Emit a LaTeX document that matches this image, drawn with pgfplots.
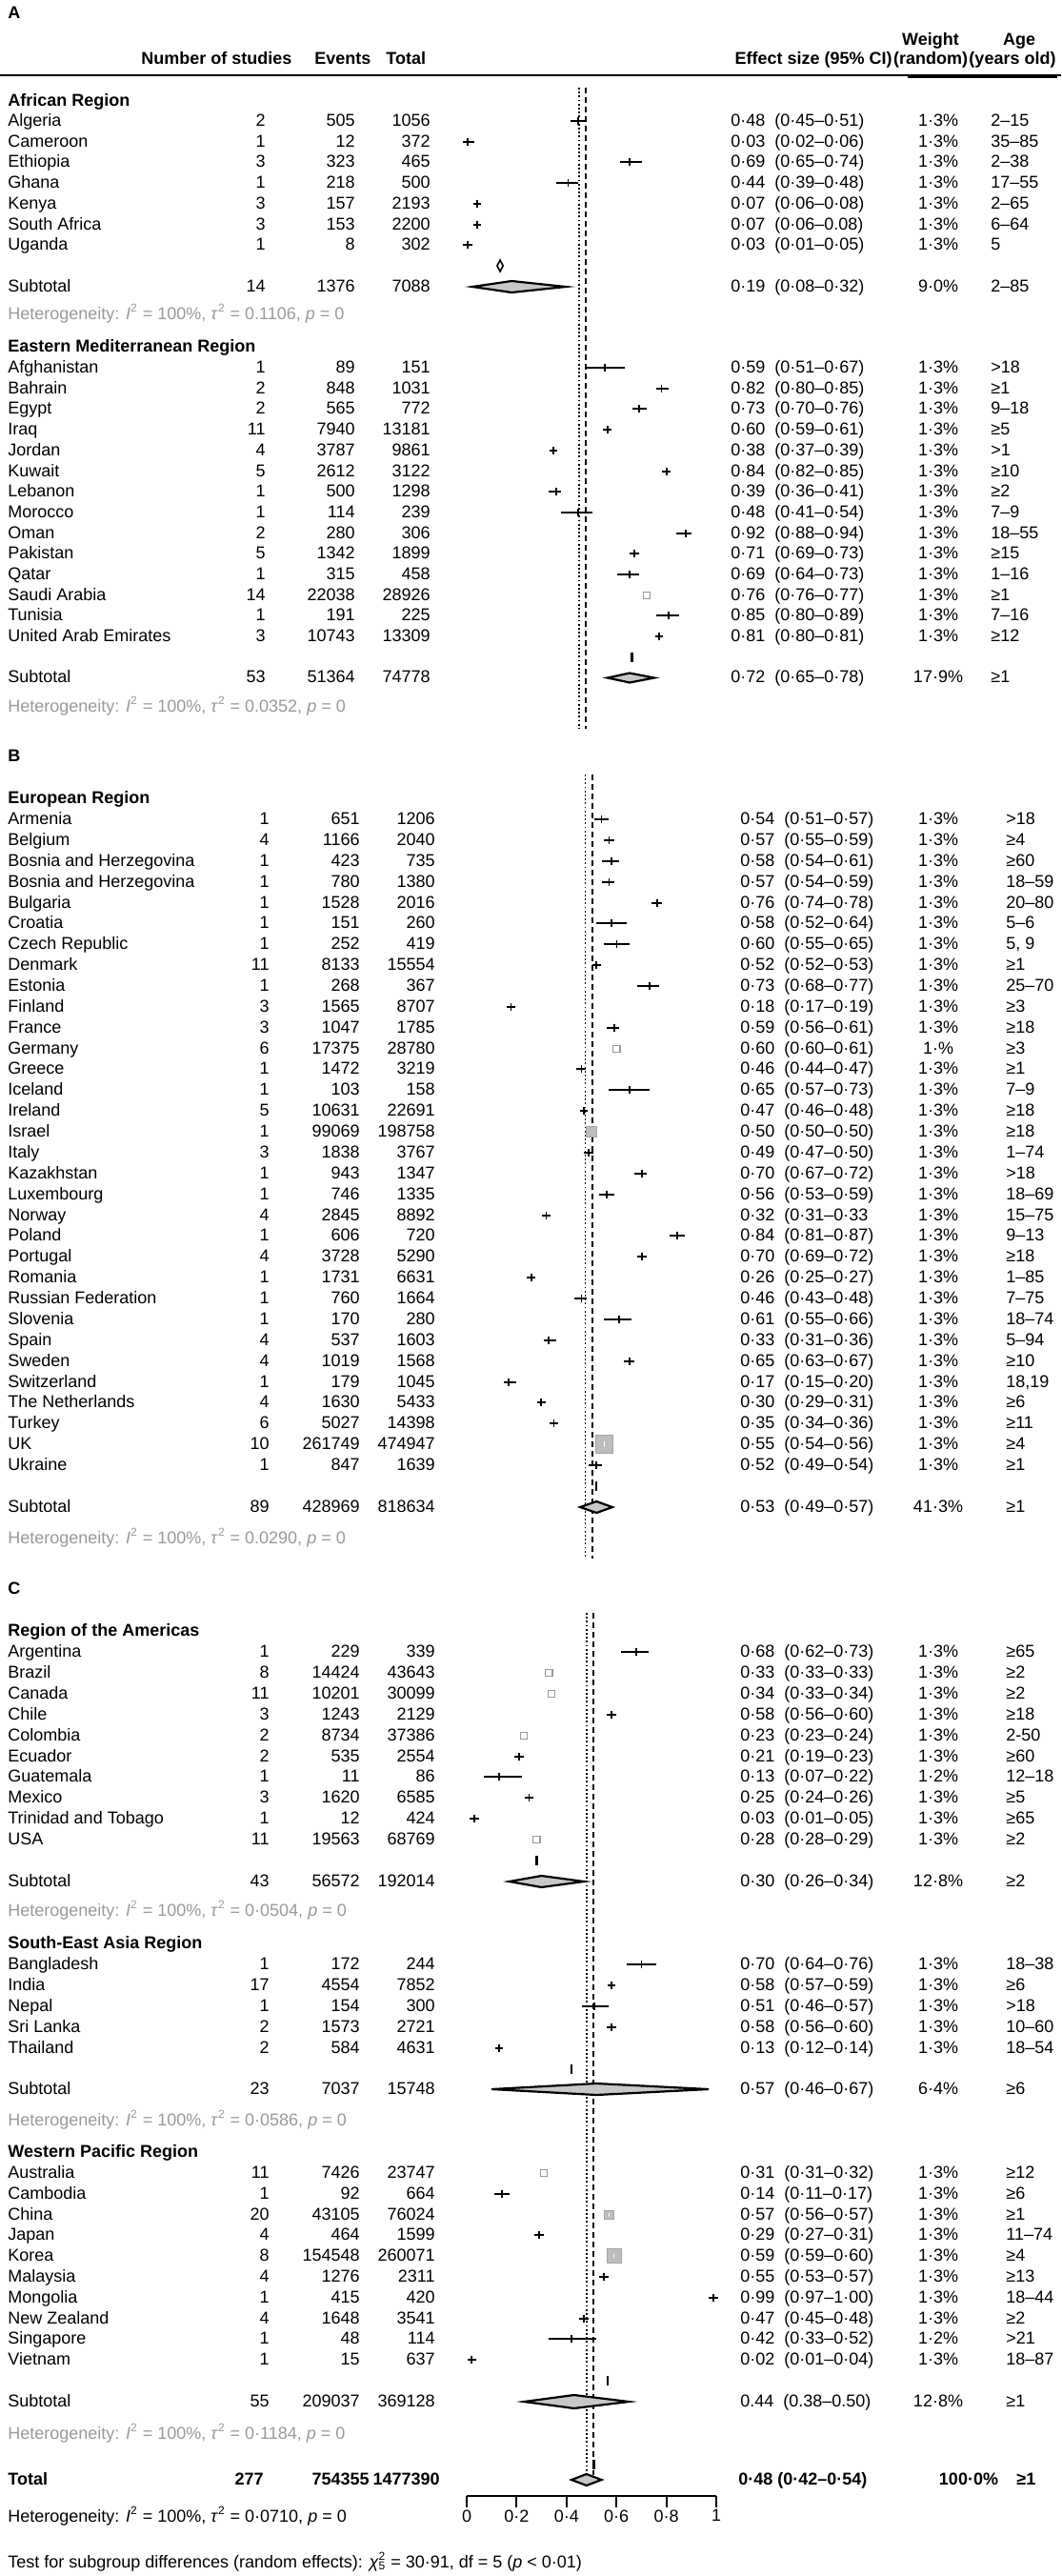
\documentclass[border=0pt]{standalone}
\usepackage{fontspec}
\setmainfont{Liberation Sans}
\usepackage{pgfplots}
\usepackage{pgfplotstable}
\pgfplotsset{compat=1.18}
\newcommand\fs{\fontsize{9pt}{10.8pt}\selectfont}
\definecolor{hetgray}{gray}{0.6}
\definecolor{dia}{gray}{0.78}
\definecolor{sqgray}{gray}{0.74}

% study rows: y (layout position, px), estimate, lower, upper
\pgfplotstableread{
y e l h
-127 0.48 0.45 0.51
-149 0.03 0.02 0.06
-170 0.69 0.65 0.74
-192 0.44 0.39 0.48
-214 0.07 0.06 0.08
-236 0.07 0.06 0.08
-257 0.03 0.01 0.05
-386 0.59 0.51 0.67
-408 0.82 0.80 0.85
-429 0.73 0.70 0.76
-451 0.60 0.59 0.61
-473 0.38 0.37 0.39
-495 0.84 0.82 0.85
-516 0.39 0.36 0.41
-538 0.48 0.41 0.54
-560 0.92 0.88 0.94
-581 0.71 0.69 0.73
-603 0.69 0.64 0.73
-646 0.85 0.80 0.89
-668 0.81 0.80 0.81
}\tabA
\pgfplotstableread{
y e l h
-860 0.54 0.51 0.57
-882 0.57 0.55 0.59
-904 0.58 0.54 0.61
-926 0.57 0.54 0.59
-948 0.76 0.74 0.78
-969 0.58 0.52 0.64
-991 0.60 0.55 0.65
-1013 0.52 0.52 0.53
-1035 0.73 0.68 0.77
-1057 0.18 0.17 0.19
-1079 0.59 0.56 0.61
-1122 0.46 0.44 0.47
-1144 0.65 0.57 0.73
-1166 0.47 0.46 0.48
-1210 0.49 0.47 0.50
-1232 0.70 0.67 0.72
-1254 0.56 0.53 0.59
-1276 0.32 0.31 0.33
-1297 0.84 0.81 0.87
-1319 0.70 0.69 0.72
-1341 0.26 0.25 0.27
-1363 0.46 0.43 0.48
-1385 0.61 0.55 0.66
-1407 0.33 0.31 0.36
-1429 0.65 0.63 0.67
-1451 0.17 0.15 0.20
-1472 0.30 0.29 0.31
-1494 0.35 0.34 0.36
-1538 0.52 0.49 0.54
}\tabB
\pgfplotstableread{
y e l h
-1734 0.68 0.62 0.73
-1800 0.58 0.56 0.60
-1844 0.21 0.19 0.23
-1865 0.13 0.07 0.22
-1887 0.25 0.24 0.26
-1909 0.03 0.01 0.05
-2062 0.70 0.64 0.76
-2084 0.58 0.57 0.59
-2106 0.51 0.46 0.57
-2128 0.58 0.56 0.60
-2150 0.13 0.12 0.14
-2303 0.14 0.11 0.17
-2346 0.29 0.27 0.31
-2390 0.55 0.53 0.57
-2412 0.99 0.97 1.00
-2434 0.47 0.45 0.48
-2455 0.42 0.33 0.52
-2477 0.02 0.01 0.04
}\tabC

\pgfplotsset{
  fp/.style={scale only axis, xmin=0, xmax=1, enlargelimits=false, clip=false},
  ci/.style={only marks, black, mark=+, mark size=2.2pt, mark options={line width=0.9pt},
    error bars/.cd, x dir=both, x explicit, error mark=none, error bar style={line width=1pt, black}},
  dotline/.style={black, line width=0.9pt, dash pattern=on 0.9pt off 1.2pt},
  dashline/.style={black, line width=0.9pt, dash pattern=on 3pt off 2pt},
  diam/.style={fill=dia, draw=black, line width=1.1pt},
  faint/.style={only marks, mark=square, mark size=1.8pt, mark options={draw=black!40, line width=0.6pt}},
  gsq/.style={only marks, mark=square*, mark options={fill=sqgray, draw=black!35, line width=0.4pt}},
  vmark/.style={only marks, mark=|, mark size=2.6pt, mark options={line width=1.2pt}},
}
\newcommand\citab[1]{\addplot[ci] table[x=e, y=y, x error plus expr=\thisrow{h}-\thisrow{e}, x error minus expr=\thisrow{e}-\thisrow{l}] {#1};}

\newcommand\row[8]{%
  \node[anchor=mid west] at (8,#1) {#2};
  \node[anchor=mid east] at (\nx,#1) {#3};
  \node[anchor=mid east] at (\evx,#1) {#4};
  \node[anchor=mid east] at (\totx,#1) {#5};
  \node[anchor=mid west] at (\esx,#1) {#6};
  \node[anchor=mid] at (985,#1) {#7};
  \node[anchor=mid west] at (\agex,#1) {#8};
}
\newcommand\reg[2]{\node[anchor=mid west, font=\fs\bfseries] at (8,#1) {#2};}
\newcommand\het[2]{\node[anchor=mid west, text=hetgray] at (8,#1) {Heterogeneity: \textit{I}\textsuperscript{2} = 100\%, \textit{τ}\textsuperscript{2} = #2, \textit{p} = 0};}

\begin{document}
\begin{tikzpicture}
\path[use as bounding box] (0,0) rectangle (557pt,-1352pt);

% ---------------- Panel A plot ----------------
\begin{axis}[fp, hide axis, at={(241.5pt,-397.5pt)}, anchor=south west, width=129pt, height=357.5pt, ymin=-795, ymax=-80]
\addplot[dotline] coordinates {(0.485,-92) (0.485,-765)};
\addplot[dashline] coordinates {(0.512,-92) (0.512,-765)};
\citab{\tabA}
\addplot[faint] coordinates {(0.76,-625)};
\addplot[diam] coordinates {(0.05,-301) (0.21,-295) (0.43,-301) (0.21,-307)} --cycle;
\addplot[diam] coordinates {(0.60,-711.5) (0.69,-706.5) (0.79,-711.5) (0.69,-716.5)} --cycle;
\addplot[black, line width=0.8pt] coordinates {(0.163,-273) (0.175,-279) (0.163,-285) (0.151,-279)} --cycle;
\addplot[vmark] coordinates {(0.70,-690)};
\end{axis}

% ---------------- Panel B plot ----------------
\begin{axis}[fp, hide axis, at={(244.5pt,-825pt)}, anchor=south west, width=132pt, height=425pt, ymin=-1650, ymax=-800]
\addplot[dotline] coordinates {(0.475,-813) (0.475,-1636)};
\addplot[dashline] coordinates {(0.504,-813) (0.504,-1636)};
\citab{\tabB}
\addplot[faint] coordinates {(0.60,-1101)};
\addplot[gsq, mark size=2.7pt] coordinates {(0.50,-1188)};
\addplot[gsq, mark size=4.6pt] coordinates {(0.55,-1516)};
\addplot[only marks, mark=|, mark size=1.5pt, mark options={draw=white, line width=0.7pt}] coordinates {(0.55,-1516)};
\addplot[diam] coordinates {(0.455,-1582) (0.52,-1576) (0.583,-1582) (0.52,-1588)} --cycle;
\addplot[vmark] coordinates {(0.52,-1560)};
\end{axis}

% ---------------- Panel C plot (with x axis) ----------------
\begin{axis}[fp, at={(245pt,-1310pt)}, anchor=south west, width=131pt, height=480pt, ymin=-2620, ymax=-1660,
  axis x line=bottom, axis y line=none, ytick=\empty, x axis line style={-, line width=1pt},
  xtick={0,0.2,0.4,0.6,0.8,1}, xticklabels={0,0·2,0·4,0·6,0·8,1},
  tick align=outside, major tick length=6pt, xtick style={line width=1pt, black},
  xticklabel style={font=\fs, inner sep=1pt}]
\addplot[dotline] coordinates {(0.48,-1693) (0.48,-2598)};
\addplot[dashline] coordinates {(0.508,-1693) (0.508,-2598)};
\citab{\tabC}
\addplot[faint] coordinates {(0.33,-1756) (0.34,-1778) (0.23,-1822) (0.28,-1931) (0.31,-2281)};
\addplot[gsq, mark size=2.3pt] coordinates {(0.57,-2325)};
\addplot[gsq, mark size=3.8pt] coordinates {(0.59,-2368)};
\addplot[only marks, mark=|, mark size=1.2pt, mark options={draw=white, line width=0.7pt}] coordinates {(0.57,-2325) (0.59,-2368)};
\addplot[diam] coordinates {(0.17,-1975) (0.30,-1969) (0.47,-1975) (0.30,-1981)} --cycle;
\addplot[diam] coordinates {(0.10,-2193) (0.52,-2187) (0.97,-2193) (0.52,-2199)} --cycle;
\addplot[diam] coordinates {(0.23,-2521) (0.43,-2514) (0.65,-2521) (0.43,-2528)} --cycle;
\addplot[diam] coordinates {(0.42,-2603) (0.48,-2597) (0.54,-2603) (0.48,-2609)} --cycle;
\addplot[vmark] coordinates {(0.28,-1953) (0.42,-2172) (0.565,-2499) (0.51,-2587)};
\end{axis}

% ---------------- Text ----------------
\begin{scope}[x=0.5pt, y=-0.5pt, every node/.style={inner sep=0pt, font=\fs}]
\node[anchor=mid west, font=\fs\bfseries] at (8,14) {A};
\node[anchor=mid west, font=\fs\bfseries] at (148,62) {Number of studies};
\node[anchor=mid west, font=\fs\bfseries] at (330,62) {Events};
\node[anchor=mid west, font=\fs\bfseries] at (405,62) {Total};
\node[anchor=mid east, font=\fs\bfseries] at (937,62) {Effect size (95\% CI)};
\node[anchor=mid, font=\fs\bfseries] at (977,42) {Weight};
\node[anchor=mid, font=\fs\bfseries] at (977,62) {(random)};
\node[anchor=mid, font=\fs\bfseries] at (1070,42) {Age};
\node[anchor=mid, font=\fs\bfseries] at (1063,62) {(years old)};
\draw[line width=1.1pt] (0,79) -- (1114,79);
\draw[line width=2.2pt] (953,80) -- (1110,80);

\def\nx{279}\def\evx{373}\def\totx{452}\def\esx{767}\def\agex{1040}
\reg{106}{African Region}
\row{127}{Algeria}{2}{505}{1056}{0·48~~(0·45–0·51)}{1·3\%}{2–15}
\row{149}{Cameroon}{1}{12}{372}{0·03~~(0·02–0·06)}{1·3\%}{35–85}
\row{170}{Ethiopia}{3}{323}{465}{0·69~~(0·65–0·74)}{1·3\%}{2–38}
\row{192}{Ghana}{1}{218}{500}{0·44~~(0·39–0·48)}{1·3\%}{17–55}
\row{214}{Kenya}{3}{157}{2193}{0·07~~(0·06–0·08)}{1·3\%}{2–65}
\row{236}{South Africa}{3}{153}{2200}{0·07~~(0·06–0.08)}{1·3\%}{6–64}
\row{257}{Uganda}{1}{8}{302}{0·03~~(0·01–0·05)}{1·3\%}{5}
\row{301}{Subtotal}{14}{1376}{7088}{0·19~~(0·08–0·32)}{9·0\%}{2–85}
\het{330}{0.1106}
\reg{364}{Eastern Mediterranean Region}
\row{386}{Afghanistan}{1}{89}{151}{0·59~~(0·51–0·67)}{1·3\%}{>18}
\row{408}{Bahrain}{2}{848}{1031}{0·82~~(0·80–0·85)}{1·3\%}{≥1}
\row{429}{Egypt}{2}{565}{772}{0·73~~(0·70–0·76)}{1·3\%}{9–18}
\row{451}{Iraq}{11}{7940}{13181}{0·60~~(0·59–0·61)}{1·3\%}{≥5}
\row{473}{Jordan}{4}{3787}{9861}{0·38~~(0·37–0·39)}{1·3\%}{>1}
\row{495}{Kuwait}{5}{2612}{3122}{0·84~~(0·82–0·85)}{1·3\%}{≥10}
\row{516}{Lebanon}{1}{500}{1298}{0·39~~(0·36–0·41)}{1·3\%}{≥2}
\row{538}{Morocco}{1}{114}{239}{0·48~~(0·41–0·54)}{1·3\%}{7–9}
\row{560}{Oman}{2}{280}{306}{0·92~~(0·88–0·94)}{1·3\%}{18–55}
\row{581}{Pakistan}{5}{1342}{1899}{0·71~~(0·69–0·73)}{1·3\%}{≥15}
\row{603}{Qatar}{1}{315}{458}{0·69~~(0·64–0·73)}{1·3\%}{1–16}
\row{625}{Saudi Arabia}{14}{22038}{28926}{0·76~~(0·76–0·77)}{1·3\%}{≥1}
\row{646}{Tunisia}{1}{191}{225}{0·85~~(0·80–0·89)}{1·3\%}{7–16}
\row{668}{United Arab Emirates}{3}{10743}{13309}{0·81~~(0·80–0·81)}{1·3\%}{≥12}
\row{711}{Subtotal}{53}{51364}{74778}{0·72~~(0·65–0·78)}{17·9\%}{≥1}
\het{742}{0.0352}

\def\nx{283}\def\evx{378}\def\totx{457}\def\esx{777}\def\agex{1056}
\node[anchor=mid west, font=\fs\bfseries] at (8,794) {B};
\reg{838}{European Region}
\row{860}{Armenia}{1}{651}{1206}{0·54~~(0·51–0·57)}{1·3\%}{>18}
\row{882}{Belgium}{4}{1166}{2040}{0·57~~(0·55–0·59)}{1·3\%}{≥4}
\row{904}{Bosnia and Herzegovina}{1}{423}{735}{0·58~~(0·54–0·61)}{1·3\%}{≥60}
\row{926}{Bosnia and Herzegovina}{1}{780}{1380}{0·57~~(0·54–0·59)}{1·3\%}{18–59}
\row{948}{Bulgaria}{1}{1528}{2016}{0·76~~(0·74–0·78)}{1·3\%}{20–80}
\row{969}{Croatia}{1}{151}{260}{0·58~~(0·52–0·64)}{1·3\%}{5–6}
\row{991}{Czech Republic}{1}{252}{419}{0·60~~(0·55–0·65)}{1·3\%}{5, 9}
\row{1013}{Denmark}{11}{8133}{15554}{0·52~~(0·52–0·53)}{1·3\%}{≥1}
\row{1035}{Estonia}{1}{268}{367}{0·73~~(0·68–0·77)}{1·3\%}{25–70}
\row{1057}{Finland}{3}{1565}{8707}{0·18~~(0·17–0·19)}{1·3\%}{≥3}
\row{1079}{France}{3}{1047}{1785}{0·59~~(0·56–0·61)}{1·3\%}{≥18}
\row{1101}{Germany}{6}{17375}{28780}{0·60~~(0·60–0·61)}{1·\%}{≥3}
\row{1122}{Greece}{1}{1472}{3219}{0·46~~(0·44–0·47)}{1·3\%}{≥1}
\row{1144}{Iceland}{1}{103}{158}{0·65~~(0·57–0·73)}{1·3\%}{7–9}
\row{1166}{Ireland}{5}{10631}{22691}{0·47~~(0·46–0·48)}{1·3\%}{≥18}
\row{1188}{Israel}{1}{99069}{198758}{0·50~~(0·50–0·50)}{1·3\%}{≥18}
\row{1210}{Italy}{3}{1838}{3767}{0·49~~(0·47–0·50)}{1·3\%}{1–74}
\row{1232}{Kazakhstan}{1}{943}{1347}{0·70~~(0·67–0·72)}{1·3\%}{>18}
\row{1254}{Luxembourg}{1}{746}{1335}{0·56~~(0·53–0·59)}{1·3\%}{18–69}
\row{1276}{Norway}{4}{2845}{8892}{0·32~~(0·31–0·33}{1·3\%}{15–75}
\row{1297}{Poland}{1}{606}{720}{0·84~~(0·81–0·87)}{1·3\%}{9–13}
\row{1319}{Portugal}{4}{3728}{5290}{0·70~~(0·69–0·72)}{1·3\%}{≥18}
\row{1341}{Romania}{1}{1731}{6631}{0·26~~(0·25–0·27)}{1·3\%}{1–85}
\row{1363}{Russian Federation}{1}{760}{1664}{0·46~~(0·43–0·48)}{1·3\%}{7–75}
\row{1385}{Slovenia}{1}{170}{280}{0·61~~(0·55–0·66)}{1·3\%}{18–74}
\row{1407}{Spain}{4}{537}{1603}{0·33~~(0·31–0·36)}{1·3\%}{5–94}
\row{1429}{Sweden}{4}{1019}{1568}{0·65~~(0·63–0·67)}{1·3\%}{≥10}
\row{1451}{Switzerland}{1}{179}{1045}{0·17~~(0·15–0·20)}{1·3\%}{18,19}
\row{1472}{The Netherlands}{4}{1630}{5433}{0·30~~(0·29–0·31)}{1·3\%}{≥6}
\row{1494}{Turkey}{6}{5027}{14398}{0·35~~(0·34–0·36)}{1·3\%}{≥11}
\row{1516}{UK}{10}{261749}{474947}{0·55~~(0·54–0·56)}{1·3\%}{≥4}
\row{1538}{Ukraine}{1}{847}{1639}{0·52~~(0·49–0·54)}{1·3\%}{≥1}
\row{1582}{Subtotal}{89}{428969}{818634}{0·53~~(0·49–0·57)}{41·3\%}{≥1}
\het{1615}{0.0290}

\node[anchor=mid west, font=\fs\bfseries] at (8,1668) {C};
\reg{1712}{Region of the Americas}
\row{1734}{Argentina}{1}{229}{339}{0·68~~(0·62–0·73)}{1·3\%}{≥65}
\row{1756}{Brazil}{8}{14424}{43643}{0·33~~(0·33–0·33)}{1·3\%}{≥2}
\row{1778}{Canada}{11}{10201}{30099}{0·34~~(0·33–0·34)}{1·3\%}{≥2}
\row{1800}{Chile}{3}{1243}{2129}{0·58~~(0·56–0·60)}{1·3\%}{≥18}
\row{1822}{Colombia}{2}{8734}{37386}{0·23~~(0·23–0·24)}{1·3\%}{2-50}
\row{1844}{Ecuador}{2}{535}{2554}{0·21~~(0·19–0·23)}{1·3\%}{≥60}
\row{1865}{Guatemala}{1}{11}{86}{0·13~~(0·07–0·22)}{1·2\%}{12–18}
\row{1887}{Mexico}{3}{1620}{6585}{0·25~~(0·24–0·26)}{1·3\%}{≥5}
\row{1909}{Trinidad and Tobago}{1}{12}{424}{0·03~~(0·01–0·05)}{1·3\%}{≥65}
\row{1931}{USA}{11}{19563}{68769}{0·28~~(0·28–0·29)}{1·3\%}{≥2}
\row{1975}{Subtotal}{43}{56572}{192014}{0·30~~(0·26–0·34)}{12·8\%}{≥2}
\het{2006}{0·0504}
\reg{2040}{South-East Asia Region}
\row{2062}{Bangladesh}{1}{172}{244}{0·70~~(0·64–0·76)}{1·3\%}{18–38}
\row{2084}{India}{17}{4554}{7852}{0·58~~(0·57–0·59)}{1·3\%}{≥6}
\row{2106}{Nepal}{1}{154}{300}{0·51~~(0·46–0·57)}{1·3\%}{>18}
\row{2128}{Sri Lanka}{2}{1573}{2721}{0·58~~(0·56–0·60)}{1·3\%}{10–60}
\row{2150}{Thailand}{2}{584}{4631}{0·13~~(0·12–0·14)}{1·3\%}{18–54}
\row{2193}{Subtotal}{23}{7037}{15748}{0·57~~(0·46–0·67)}{6·4\%}{≥6}
\het{2226}{0·0586}
\reg{2259}{Western Pacific Region}
\row{2281}{Australia}{11}{7426}{23747}{0·31~~(0·31–0·32)}{1·3\%}{≥12}
\row{2303}{Cambodia}{1}{92}{664}{0·14~~(0·11–0·17)}{1·3\%}{≥6}
\row{2325}{China}{20}{43105}{76024}{0·57~~(0·56–0·57)}{1·3\%}{≥1}
\row{2346}{Japan}{4}{464}{1599}{0·29~~(0·27–0·31)}{1·3\%}{11–74}
\row{2368}{Korea}{8}{154548}{260071}{0·59~~(0·59–0·60)}{1·3\%}{≥4}
\row{2390}{Malaysia}{4}{1276}{2311}{0·55~~(0·53–0·57)}{1·3\%}{≥13}
\row{2412}{Mongolia}{1}{415}{420}{0·99~~(0·97–1·00)}{1·3\%}{18–44}
\row{2434}{New Zealand}{4}{1648}{3541}{0·47~~(0·45–0·48)}{1·3\%}{≥2}
\row{2455}{Singapore}{1}{48}{114}{0·42~~(0·33–0·52)}{1·2\%}{>21}
\row{2477}{Vietnam}{1}{15}{637}{0·02~~(0·01–0·04)}{1·3\%}{18–87}
\row{2521}{Subtotal}{55}{209037}{369128}{0.44~~(0.38–0.50)}{12·8\%}{≥1}
\het{2555}{0·1184}

\begin{scope}[every node/.append style={font=\fs\bfseries}]
\node[anchor=mid west] at (8,2603) {Total};
\node[anchor=mid east] at (277,2603) {277};
\node[anchor=mid east] at (388,2603) {754355};
\node[anchor=mid east] at (462,2603) {1477390};
\node[anchor=mid west] at (775,2603) {0·48 (0·42–0·54)};
\node[anchor=mid] at (1017,2603) {100·0\%};
\node[anchor=mid west] at (1067,2603) {≥1};
\end{scope}
\node[anchor=mid west] at (8,2642) {Heterogeneity: \textit{I}\textsuperscript{2} = 100\%, \textit{τ}\textsuperscript{2} = 0·0710, \textit{p} = 0};
\node[anchor=mid west] at (8,2690) {Test for subgroup differences (random effects): \textit{χ}\rlap{\textsuperscript{2}}\textsubscript{5} = 30·91, df = 5 (\textit{p} < 0·01)};
\end{scope}
\end{tikzpicture}
\end{document}
